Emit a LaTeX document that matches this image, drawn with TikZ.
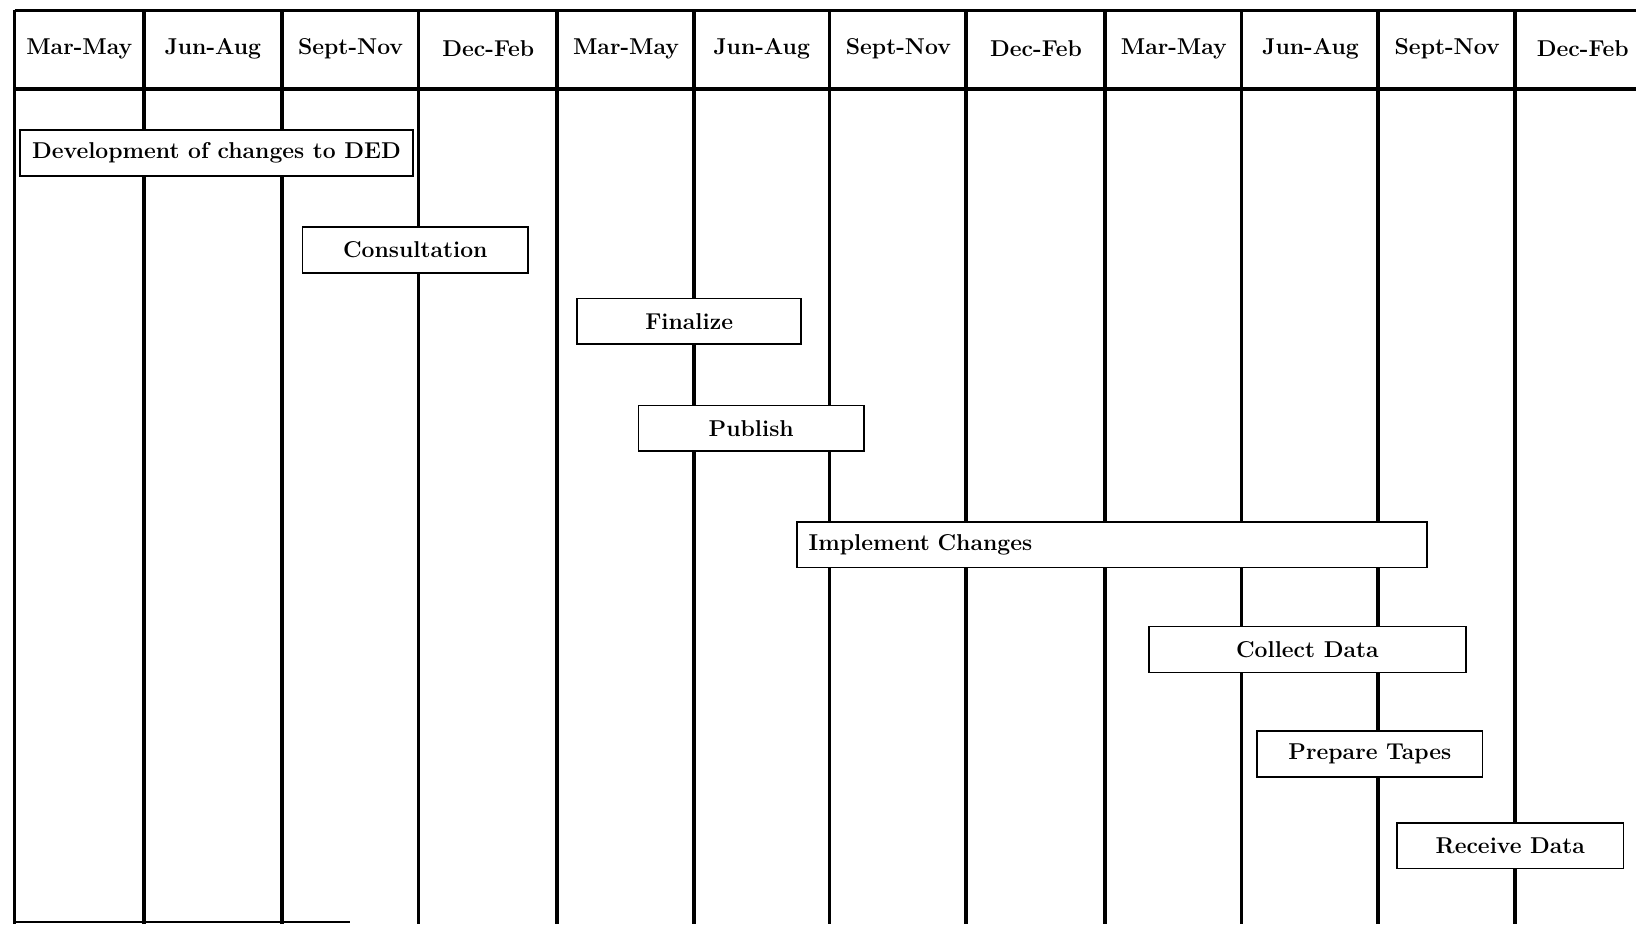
\documentclass[tikz,border=0pt]{standalone}
\usepackage{tikz}
\begin{document}
\begin{tikzpicture}[x=0.02cm,y=-0.02cm,
	rule/.style={line width=2pt},
	season/.style={font=\fontsize{12.5}{15}\selectfont\bfseries},
	task/.style={draw,fill=white,line width=0.9pt,minimum height=0.88cm,inner sep=0pt,font=\fontsize{12.5}{15}\selectfont\bfseries}]
	\useasboundingbox (0,0) rectangle (1568,886);
	% frame and columns
	\draw[rule] (14,10) -- (1568,10);
	\draw[rule] (14,85) -- (1568,85);
	\foreach \x in {14,138,270,401,534,665,795,926,1059,1190,1321,1452}
		\draw[rule] (\x,10) -- (\x,886);
	\draw[line width=1pt] (14,884) -- (335,884);
	% seasons
	\foreach \x/\lbl [count=\i] in {76/Mar-May,204/Jun-Aug,336/Sept-Nov,468/Dec-Feb,
			600/Mar-May,730/Jun-Aug,861/Sept-Nov,993/Dec-Feb,
			1125/Mar-May,1256/Jun-Aug,1387/Sept-Nov,1517/Dec-Feb}
		\node[season] (s\i) at (\x,47) {\lbl};
	% tasks
	\node[task,minimum width=7.54cm] (dev) at (207.5,146.5) {Development of changes to DED};
	\node[task,minimum width=4.32cm] (cons) at (398,239.5) {Consultation};
	\node[task,minimum width=4.30cm] (fin) at (660.5,308) {Finalize};
	\node[task,minimum width=4.32cm] (pub) at (720,410.5) {Publish};
	\node[task,text width=11.64cm,inner xsep=0.22cm,align=left] (impl) at (1066,522) {Implement Changes};
	\node[task,minimum width=6.08cm] (coll) at (1253,622.5) {Collect Data};
	\node[task,minimum width=4.32cm] (tapes) at (1313,722.5) {Prepare Tapes};
	\node[task,minimum width=4.34cm] (recv) at (1447.5,810.5) {Receive Data};
\end{tikzpicture}
\end{document}
